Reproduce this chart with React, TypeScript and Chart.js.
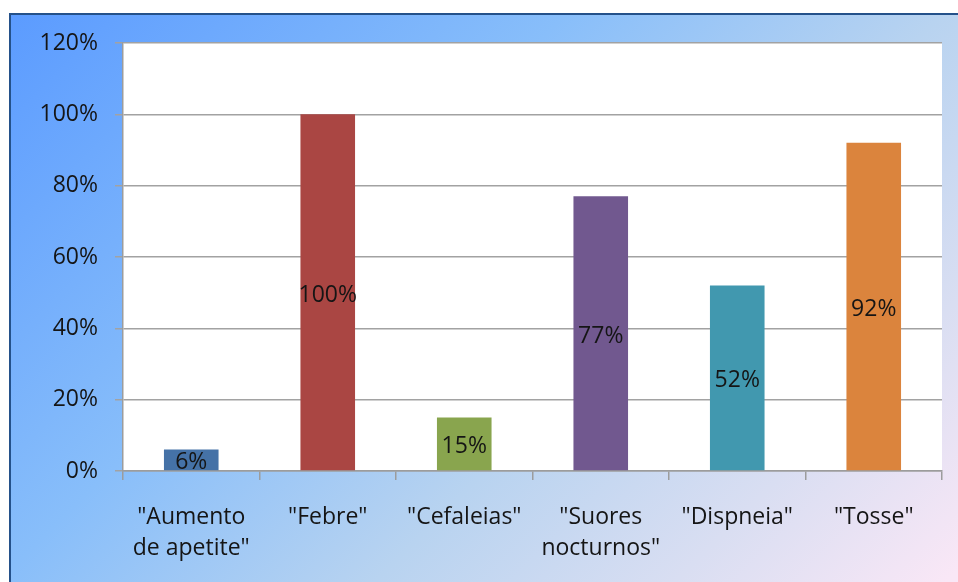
import React, { useEffect, useRef } from "react";
import { Chart, registerables } from "chart.js";

Chart.register(...registerables);

const categories: (string | string[])[] = [
  ['"Aumento', 'de apetite"'],
  '"Febre"',
  '"Cefaleias"',
  ['"Suores', 'nocturnos"'],
  '"Dispneia"',
  '"Tosse"',
];
const values: number[] = [6, 100, 15, 77, 52, 92];
const barColors: string[] = ["#4572A7", "#AA4643", "#89A54E", "#71588F", "#4198AF", "#DB843D"];
const yTicks: number[] = [0, 20, 40, 60, 80, 100, 120];

const FONT = "'Open Sans', 'DejaVu Sans', sans-serif";

const framePlugin = {
  id: "frame",
  beforeDraw(chart: any) {
    const { ctx, chartArea } = chart;
    const W = chart.width;
    const H = chart.height;
    ctx.save();
    const g = ctx.createLinearGradient(9, 13, 762, 766);
    g.addColorStop(0, "#5B9BFF");
    g.addColorStop(0.37, "#88BEFA");
    g.addColorStop(0.62, "#B8D3F0");
    g.addColorStop(0.82, "#D9DEF2");
    g.addColorStop(1, "#F9E7F6");
    ctx.fillStyle = g;
    ctx.fillRect(9, 13, W - 9, H - 13);
    ctx.strokeStyle = "#24518A";
    ctx.lineWidth = 2;
    ctx.beginPath();
    ctx.moveTo(10, H);
    ctx.lineTo(10, 14);
    ctx.lineTo(W, 14);
    ctx.stroke();
    ctx.fillStyle = "#FFFFFF";
    ctx.fillRect(chartArea.left, chartArea.top, chartArea.right - chartArea.left, chartArea.bottom - chartArea.top);
    ctx.restore();
  },
};

const labelPlugin = {
  id: "barLabels",
  afterDatasetsDraw(chart: any) {
    const { ctx } = chart;
    const meta = chart.getDatasetMeta(0);
    ctx.save();
    ctx.font = `23px ${FONT}`;
    ctx.fillStyle = "#151515";
    ctx.textAlign = "center";
    ctx.textBaseline = "middle";
    meta.data.forEach((bar: any, i: number) => {
      const y = (bar.y + bar.base) / 2 + 3;
      ctx.fillText(values[i] + "%", bar.x, y);
    });
    ctx.restore();
  },
};

export default function App() {
  const ref = useRef<HTMLCanvasElement>(null);
  useEffect(() => {
    if (!ref.current) return;
    const chart = new Chart(ref.current, {
      type: "bar",
      data: {
        labels: categories,
        datasets: [
          {
            data: values,
            backgroundColor: barColors,
            borderWidth: 0,
            barPercentage: 0.4,
            categoryPercentage: 1.0,
          },
        ],
      },
      options: {
        responsive: false,
        animation: false,
        layout: { padding: { left: 0, top: 43, right: 16, bottom: 0 } },
        plugins: { legend: { display: false }, tooltip: { enabled: false } },
        scales: {
          x: {
            grid: { drawOnChartArea: false, drawTicks: true, tickLength: 9, color: "#9C9C9C", lineWidth: 1.5 },
            border: { display: true, color: "#9C9C9C", width: 1.5 },
            ticks: {
              color: "#151515",
              font: { family: FONT, size: 23, lineHeight: 1.35 },
              padding: 22,
              maxRotation: 0,
              autoSkip: false,
            },
            afterFit(scale: any) {
              scale.height = 111;
            },
          },
          y: {
            min: 0,
            max: 120,
            afterBuildTicks(scale: any) {
              scale.ticks = yTicks.map((v) => ({ value: v }));
            },
            grid: { color: "#A2A2A2", lineWidth: 1.5, tickLength: 8, drawTicks: true },
            border: { display: true, color: "#9C9C9C", width: 1.5 },
            ticks: {
              color: "#151515",
              font: { family: FONT, size: 23 },
              padding: 17,
              callback: (v: any) => v + "%",
            },
            afterFit(scale: any) {
              scale.width = 123;
            },
          },
        },
      },
      plugins: [framePlugin, labelPlugin],
    });
    return () => chart.destroy();
  }, []);
  return (
    <div style={{ position: "absolute", left: 0, top: 0, width: 958, height: 582 }}>
      <canvas ref={ref} width={958} height={582} style={{ display: "block" }} />
    </div>
  );
}
